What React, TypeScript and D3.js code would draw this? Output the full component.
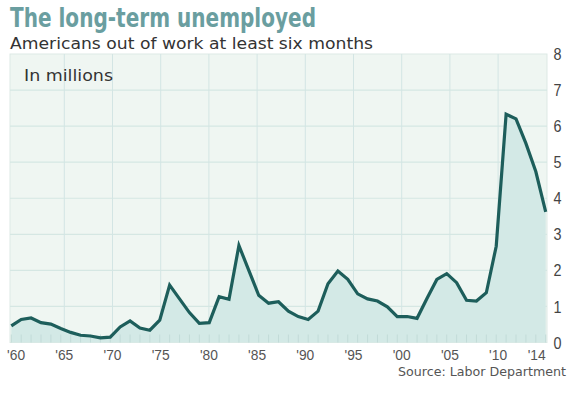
import * as d3 from "d3";

const W = 569;
const H = 398;

// plot box
const PLOT = { left: 10, right: 547, top: 54, bottom: 342.5 };

// long-term unemployed, millions, one point per year
const years = d3.range(1960, 2015);
const values = [
  0.46, 0.64, 0.68, 0.55, 0.51, 0.39, 0.28, 0.2, 0.18, 0.13,
  0.15, 0.43, 0.6, 0.4, 0.34, 0.62, 1.59, 1.21, 0.83, 0.53,
  0.55, 1.27, 1.2, 2.69, 2.0, 1.31, 1.09, 1.13, 0.87, 0.72,
  0.64, 0.87, 1.63, 1.98, 1.75, 1.35, 1.21, 1.15, 0.99, 0.72,
  0.72, 0.67, 1.22, 1.75, 1.91, 1.66, 1.17, 1.15, 1.38, 2.67,
  6.33, 6.2, 5.52, 4.74, 3.62,
];

const xTickYears = [1960, 1965, 1970, 1975, 1980, 1985, 1990, 1995, 2000, 2005, 2010, 2014];
const xTickLabels = ["'60", "'65", "'70", "'75", "'80", "'85", "'90", "'95", "'00", "'05", "'10", "'14"];
const gridYears = [1965, 1970, 1975, 1980, 1985, 1990, 1995, 2000, 2005, 2010];
const yTicks = [0, 1, 2, 3, 4, 5, 6, 7, 8];

const NARROW = "'DejaVu Sans Condensed', 'Liberation Sans Narrow', sans-serif";
const AXIS = "'Liberation Sans', Arial, sans-serif";
const SANS = "'DejaVu Sans', Verdana, sans-serif";

export default function App() {
  const data = years.map((y, i) => ({ year: y, value: values[i] }));

  // data points are spaced a bit wider than the year grid in the original
  const x = d3.scaleLinear().domain([1960, 2014]).range([11.3, 545.7]);
  // axis / grid positions
  const xg = d3.scaleLinear().domain([1960, 2015]).range([16.1, 546.3]);
  const y = d3.scaleLinear().domain([0, 8]).range([PLOT.bottom, PLOT.top]);

  const line = d3
    .line<{ year: number; value: number }>()
    .x((d) => x(d.year))
    .y((d) => y(d.value));

  const area = d3
    .area<{ year: number; value: number }>()
    .x((d) => x(d.year))
    .y0(y(0))
    .y1((d) => y(d.value));

  return (
    <div style={{ position: "absolute", left: 0, top: 0 }}>
      <svg width={W} height={H} style={{ display: "block", background: "#fff" }}>
        <text
          x={10}
          y={27}
          fontFamily={NARROW}
          fontWeight="bold"
          fontSize={26}
          fill="#6a9ea0"
          textLength={306}
          lengthAdjust="spacingAndGlyphs"
        >
          The long-term unemployed
        </text>
        <text
          x={10}
          y={49}
          fontFamily={SANS}
          fontSize={15.5}
          fill="#333"
          textLength={363}
          lengthAdjust="spacingAndGlyphs"
        >
          Americans out of work at least six months
        </text>

        {/* plot background */}
        <rect
          x={PLOT.left}
          y={PLOT.top}
          width={PLOT.right - PLOT.left}
          height={PLOT.bottom - PLOT.top}
          fill="#eff6f2"
          stroke="#dde9e5"
          strokeWidth={1}
        />

        {/* horizontal grid */}
        {yTicks
          .filter((t) => t > 0 && t < 8)
          .map((t) => (
            <line
              key={`hy${t}`}
              x1={PLOT.left}
              x2={PLOT.right}
              y1={y(t)}
              y2={y(t)}
              stroke="#d5e7e3"
              strokeWidth={1.2}
            />
          ))}
        {/* vertical grid */}
        {gridYears.map((g) => (
          <line
            key={`vx${g}`}
            x1={xg(g)}
            x2={xg(g)}
            y1={PLOT.top}
            y2={PLOT.bottom}
            stroke="#d3e5e4"
            strokeWidth={1}
          />
        ))}

        <text x={24} y={81} fontFamily={SANS} fontSize={16} fill="#333" textLength={89} lengthAdjust="spacingAndGlyphs">
          In millions
        </text>

        <path d={area(data) ?? ""} fill="#d3e9e6" />

        {/* small year ticks along the bottom */}
        {data.map((d) => (
          <line
            key={`t${d.year}`}
            x1={x(d.year)}
            x2={x(d.year)}
            y1={PLOT.bottom - 8}
            y2={PLOT.bottom}
            stroke="#c2dbd8"
            strokeWidth={1}
          />
        ))}

        <path
          d={line(data) ?? ""}
          fill="none"
          stroke="#1d5e5b"
          strokeWidth={3.2}
          strokeLinejoin="miter"
        />

        {/* y labels on right */}
        {yTicks.map((t) => (
          <text
            key={`yl${t}`}
            x={557.5}
            y={y(t)}
            dy="0.36em"
            textAnchor="middle"
            fontFamily={AXIS}
            fontSize={17}
            fill="#444"
            textLength={8}
            lengthAdjust="spacingAndGlyphs"
          >
            {t}
          </text>
        ))}

        {/* x labels */}
        {xTickYears.map((yr, i) => (
          <text
            key={`xl${yr}`}
            x={xg(yr)}
            y={360}
            textAnchor="middle"
            fontFamily={AXIS}
            fontSize={15}
            fill="#555"
            textLength={18}
            lengthAdjust="spacingAndGlyphs"
          >
            {xTickLabels[i]}
          </text>
        ))}

        <text x={566} y={376} textAnchor="end" fontFamily={SANS} fontSize={12.5} fill="#555" textLength={168} lengthAdjust="spacingAndGlyphs">
          Source: Labor Department
        </text>
      </svg>
    </div>
  );
}
